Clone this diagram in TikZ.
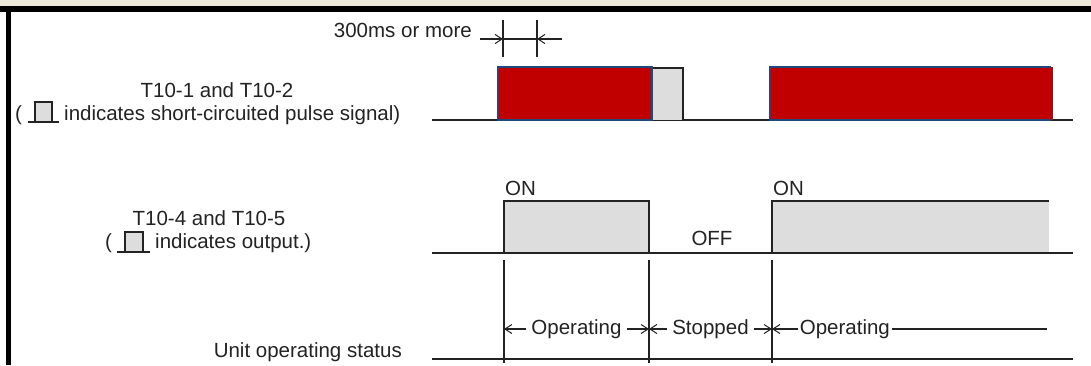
\documentclass[tikz,border=0pt]{standalone}
\usepackage{fontspec}
\setmainfont{Liberation Sans}
\usetikzlibrary{arrows.meta}
\definecolor{beige}{RGB}{236,233,218}
\definecolor{sigred}{RGB}{192,0,0}
\definecolor{sigblue}{RGB}{31,73,125}
\definecolor{lgray}{RGB}{221,221,221}
\definecolor{ink}{RGB}{35,35,35}
\begin{document}
\begin{tikzpicture}[x=1pt,y=-1pt,
  txt/.style={inner sep=0pt, font=\fontsize{20.5}{24}\selectfont, text=ink},
  wire/.style={draw=ink, line width=1.6pt},
  thinw/.style={draw=ink, line width=1.3pt},
  barb/.style={-{Straight Barb[length=7pt,width=9pt,line width=1pt]}},
  gap/.style={fill=white, inner xsep=5pt, inner ysep=0pt}
]
\useasboundingbox (0,0) rectangle (1091,365);
\fill[white] (0,0) rectangle (1091,365);
\fill[beige] (0,0) rectangle (1091,6);
\fill[black] (0,6) rectangle (1091,12);
\fill[black] (6,12) rectangle (11,365);

% ---- 300ms or more ----
\node[txt, anchor=base east] (ms) at (472,37) {300ms or more};
\coordinate (t1a) at (503,20); \coordinate (t1b) at (503,57);
\coordinate (t2a) at (537,20); \coordinate (t2b) at (537,57);
\coordinate (a0) at (480,39); \coordinate (a1) at (503,39);
\coordinate (a2) at (537,39); \coordinate (a3) at (562,39);
\draw[thinw] (t1a) -- (t1b);
\draw[thinw] (t2a) -- (t2b);
\draw[thinw] (a1) -- (a2);
\draw[thinw, barb] (a0) -- (a1);
\draw[thinw, barb] (a3) -- (a2);

% ---- row 1 labels ----
\node[txt, anchor=base] (l1a) at (217,97) {T10-1 and T10-2};
\node[txt, anchor=base west] (l1p) at (15,120) {(};
\fill[lgray] (35,102) rectangle (52,122);
\draw[wire, line width=1.2pt] (35,122) -- (35,102) -- (52,102) -- (52,122);
\draw[wire, line width=1.2pt] (28,122) -- (59,122);
\node[txt, anchor=base west] (l1b) at (64,120) {indicates short-circuited pulse signal)};

% ---- row 1 signal ----
\coordinate (b1s) at (432,120); \coordinate (b1e) at (1073,120);
\draw[wire] (b1s) -- (b1e);
\fill[lgray] (652,68) rectangle (683,120);
\draw[wire] (652,68) -- (683,68) -- (683,120);
\fill[sigred] (498,67) rectangle (652,120);
\draw[sigblue, line width=2.6pt] (498,67) rectangle (652,120);
\fill[sigred] (770,67) rectangle (1053,120);
\draw[sigblue, line width=2.6pt] (1051,67) -- (770,67) -- (770,120) -- (1051,120);

% ---- row 2 labels ----
\node[txt, anchor=base] (l2a) at (209,225) {T10-4 and T10-5};
\node[txt, anchor=base west] (l2p) at (105,248) {(};
\fill[lgray] (125,232) rectangle (143,252);
\draw[wire, line width=1.2pt] (125,252) -- (125,232) -- (143,232) -- (143,252);
\draw[wire, line width=1.2pt] (117,252) -- (150,252);
\node[txt, anchor=base west] (l2b) at (155,248) {indicates output.)};

% ---- row 2 signal ----
\fill[lgray] (504,201) rectangle (649,253);
\fill[lgray] (772,201) rectangle (1049,253);
\draw[wire] (504,253) -- (504,201) -- (649,201) -- (649,253);
\draw[wire] (772,253) -- (772,201) -- (1049,201);
\coordinate (b2s) at (432,253); \coordinate (b2e) at (1073,253);
\draw[wire] (b2s) -- (b2e);
\node[txt, anchor=base west] (on1) at (505,195) {ON};
\node[txt, anchor=base west] (on2) at (773,195) {ON};
\node[txt, anchor=base] (off) at (712,245) {OFF};

% ---- row 3 ----
\node[txt, anchor=base east] (l3) at (402,357) {Unit operating status};
\coordinate (b3s) at (432,359); \coordinate (b3e) at (1073,359);
\draw[wire] (b3s) -- (b3e);
\coordinate (v1a) at (504,260); \coordinate (v1b) at (504,363);
\coordinate (v2a) at (649,260); \coordinate (v2b) at (649,363);
\coordinate (v3a) at (772,260); \coordinate (v3b) at (772,363);
\draw[thinw] (v1a) -- (v1b);
\draw[thinw] (v2a) -- (v2b);
\draw[thinw] (v3a) -- (v3b);
\coordinate (s1) at (504,329); \coordinate (s2) at (649,329);
\coordinate (s3) at (772,329); \coordinate (s4) at (1047,329);
\draw[thinw, {Straight Barb[length=7pt,width=9pt,line width=1pt]}-{Straight Barb[length=7pt,width=9pt,line width=1pt]}] (s1) -- (s2)
  node[midway, txt, gap] (op1) {Operating};
\draw[thinw, {Straight Barb[length=7pt,width=9pt,line width=1pt]}-{Straight Barb[length=7pt,width=9pt,line width=1pt]}] (s2) -- (s3)
  node[midway, txt, gap] (st) {Stopped};
\draw[thinw, {Straight Barb[length=7pt,width=9pt,line width=1pt]}-] (s3) -- (s4)
  node[pos=0.265, txt, gap, inner xsep=2pt] (op2) {Operating};
\end{tikzpicture}
\end{document}
